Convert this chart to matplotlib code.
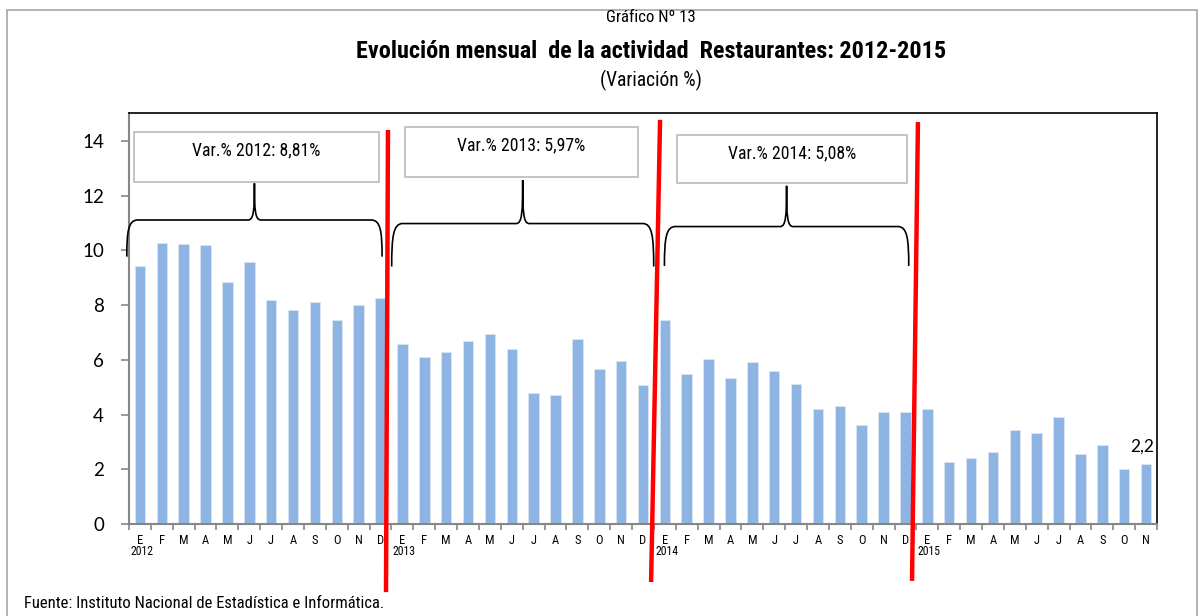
import numpy as np
import matplotlib
matplotlib.use("Agg")
import matplotlib.pyplot as plt
from matplotlib import font_manager
from matplotlib.font_manager import FontProperties
from matplotlib.path import Path
from matplotlib.patches import PathPatch, Rectangle
import matplotlib.transforms as mtransforms

# ---------------- data ----------------
months = ["E", "F", "M", "A", "M", "J", "J", "A", "S", "O", "N", "D"]
years = ["2012", "2013", "2014", "2015"]
v2012 = [9.44, 10.27, 10.23, 10.18, 8.84, 9.57, 8.18, 7.83, 8.11, 7.46, 8.02, 8.26]
v2013 = [6.57, 6.10, 6.29, 6.70, 6.96, 6.41, 4.80, 4.70, 6.77, 5.66, 5.94, 5.09]
v2014 = [7.46, 5.50, 6.04, 5.32, 5.91, 5.60, 5.13, 4.21, 4.30, 3.63, 4.09, 4.10]
v2015 = [4.20, 2.27, 2.41, 2.62, 3.45, 3.33, 3.91, 2.54, 2.87, 2.01, 2.21]
annual_labels = ["Var.% 2012: 8,81%", "Var.% 2013: 5,97%", "Var.% 2014: 5,08%"]
last_label = "2,2"
yticks = [0, 2, 4, 6, 8, 10, 12, 14]

title_small = "Gráfico Nº 13"
title_main = "Evolución mensual  de la actividad  Restaurantes: 2012-2015"
title_sub = "(Variación %)"
source = "Fuente: Instituto Nacional de Estadística e Informática."

# ---------------- fonts ----------------
def pick_narrow(bold):
    prefs = ["liberation sans narrow", "arial narrow", "roboto condensed",
             "open sans condensed", "noto sans", "dejavu sans", "liberation sans", "lato"]
    best = None
    for f in font_manager.fontManager.ttflist:
        nm = f.name.lower()
        fn = f.fname.lower()
        if f.style != "normal":
            continue
        narrow = ("narrow" in nm or "narrow" in fn or
                  ("condensed" in fn and "extra" not in fn and "semi" not in fn and "ultra" not in fn) or
                  f.stretch == "condensed")
        if not narrow:
            continue
        w = f.weight if isinstance(f.weight, (int, float)) else (700 if "bold" in str(f.weight) else 400)
        wd = abs(w - (700 if bold else 400))
        if wd > 150:
            continue
        rank = len(prefs)
        for i, p in enumerate(prefs):
            if nm.startswith(p):
                rank = i
                break
        key = (rank, wd)
        if best is None or key < best[0]:
            best = (key, f.fname)
    if best is None:
        return FontProperties(family="Liberation Sans", weight="bold" if bold else "normal")
    return FontProperties(fname=best[1])


FP_REG = pick_narrow(False)
FP_BOLD = pick_narrow(True)
names = {f.name for f in font_manager.fontManager.ttflist}
NUM = "Lato" if "Lato" in names else "DejaVu Sans"


def fp(base, size):
    p = base.copy()
    p.set_size(size)
    return p


values = v2012 + v2013 + v2014 + v2015
labels = [m for _ in years[:3] for m in months] + months[:len(v2015)]
n = len(values)
x = np.arange(n)

W, H = 1202, 616
fig = plt.figure(figsize=(W / 100, H / 100), dpi=100)
ax = fig.add_axes([129 / W, 92 / H, 1028 / W, 411 / H])

ax.bar(x, values, width=0.48, color="#8DB4E2", edgecolor="#DCE6F2", linewidth=0.6, zorder=2)
ax.set_xlim(-0.5, n - 0.5)
ax.set_ylim(0, 15.02)

for s in ["left", "bottom"]:
    ax.spines[s].set_color("#868686")
    ax.spines[s].set_linewidth(1.5)
for s in ["top", "right"]:
    ax.spines[s].set_color("black")
    ax.spines[s].set_linewidth(1.2)

ax.set_yticks(yticks)
ax.set_yticklabels([str(t) for t in yticks], fontsize=13.5, family=NUM)
ax.tick_params(axis="y", length=6, width=1.2, color="#868686", pad=12, right=False)

ax.set_xticks(np.arange(-0.5, n, 1))
ax.set_xticklabels([])
ax.tick_params(axis="x", which="major", length=4, width=1.2, color="#868686", top=False)
ax.set_xticks(x, minor=True)
ax.set_xticklabels(labels, minor=True, fontproperties=fp(FP_REG, 9))
ax.tick_params(axis="x", which="minor", length=0, pad=7)

trans = mtransforms.blended_transform_factory(ax.transData, ax.transAxes)
for i, yr in enumerate(years):
    ax.text(i * 12 - 0.45, -0.066, yr, transform=trans, ha="left", va="center",
            fontproperties=fp(FP_REG, 8.5), clip_on=False)

ax.annotate(last_label, (x[-1], values[-1]), xytext=(-3, 12), textcoords="offset points",
            ha="center", va="center", fontsize=12.5, family=NUM)

# ---------------- annotations ----------------
boxes = [(-0.25, 10.91, 12.49, 14.34), (12.12, 22.76, 12.67, 14.52), (24.55, 35.06, 12.45, 14.22)]
box_texts = []
for (x0, x1, y0, y1), lab in zip(boxes, annual_labels):
    ax.add_patch(Rectangle((x0, y0), x1 - x0, y1 - y0, facecolor="white",
                           edgecolor="#BFBFBF", linewidth=1.3, clip_on=False, zorder=4))
    box_texts.append(ax.text((x0 + x1) / 2, y1 - 0.68, lab, ha="center", va="center",
                             fontproperties=fp(FP_REG, 12), zorder=5))


def brace(x0, x1, y_end, y_bar, y_peak, rx=0.5, rc=0.3):
    xm = (x0 + x1) / 2
    verts = [
        (x0, y_end),
        (x0, y_end + 0.7 * (y_bar - y_end)), (x0 + 0.15 * rx, y_bar), (x0 + rx, y_bar),
        (xm - rc, y_bar),
        (xm - 0.1 * rc, y_bar), (xm, y_bar + 0.25 * (y_peak - y_bar)), (xm, y_peak),
        (xm, y_bar + 0.25 * (y_peak - y_bar)), (xm + 0.1 * rc, y_bar), (xm + rc, y_bar),
        (x1 - rx, y_bar),
        (x1 - 0.15 * rx, y_bar), (x1, y_end + 0.7 * (y_bar - y_end)), (x1, y_end),
    ]
    codes = [Path.MOVETO,
             Path.CURVE4, Path.CURVE4, Path.CURVE4,
             Path.LINETO,
             Path.CURVE4, Path.CURVE4, Path.CURVE4,
             Path.CURVE4, Path.CURVE4, Path.CURVE4,
             Path.LINETO,
             Path.CURVE4, Path.CURVE4, Path.CURVE4]
    ax.add_patch(PathPatch(Path(verts, codes), facecolor="none", edgecolor="black",
                           linewidth=1.2, clip_on=False, zorder=4))


brace(-0.60, 11.07, 9.77, 11.11, 12.45)
brace(11.51, 23.49, 9.41, 10.98, 12.57)
brace(23.98, 35.15, 9.43, 10.87, 12.36)

red_lines = [((11.34, 14.40), (11.25, -2.49)),
             ((23.78, 14.77), (23.37, -2.12)),
             ((35.57, 14.69), (35.30, -2.08))]
for (xa, ya), (xb, yb) in red_lines:
    ax.plot([xa, xb], [ya, yb], color="#FF0000", linewidth=3.2, clip_on=False, zorder=6,
            solid_capstyle="butt")

# ---------------- titles & source ----------------
cx = 651 / W
t_small = fig.text(cx, 1 - 18 / H, title_small, ha="center", va="center", fontproperties=fp(FP_REG, 11))
t_main = fig.text(cx, 1 - 52 / H, title_main, ha="center", va="center", fontproperties=fp(FP_BOLD, 16))
t_sub = fig.text(cx, 1 - 80 / H, title_sub, ha="center", va="center", fontproperties=fp(FP_REG, 12))
t_src = fig.text(24 / W, 1 - 603 / H, source, ha="left", va="center", fontproperties=fp(FP_REG, 11.5))

# fit text widths to the reference widths (pixels)
targets = [(t_small, 90), (t_main, 590), (t_sub, 102), (t_src, 359)] + [(t, 128) for t in box_texts]
renderer = fig.canvas.get_renderer()
for _ in range(2):
    for t, wpx in targets:
        bb = t.get_window_extent(renderer)
        t.set_fontsize(t.get_fontsize() * wpx / bb.width)

fig.add_artist(Rectangle((7 / W, -0.05), (1197 - 7) / W, 1.05 - 10 / H, transform=fig.transFigure,
                         facecolor="none", edgecolor="#A6A6A6", linewidth=1.2))

fig.savefig("out.png", dpi=100)
